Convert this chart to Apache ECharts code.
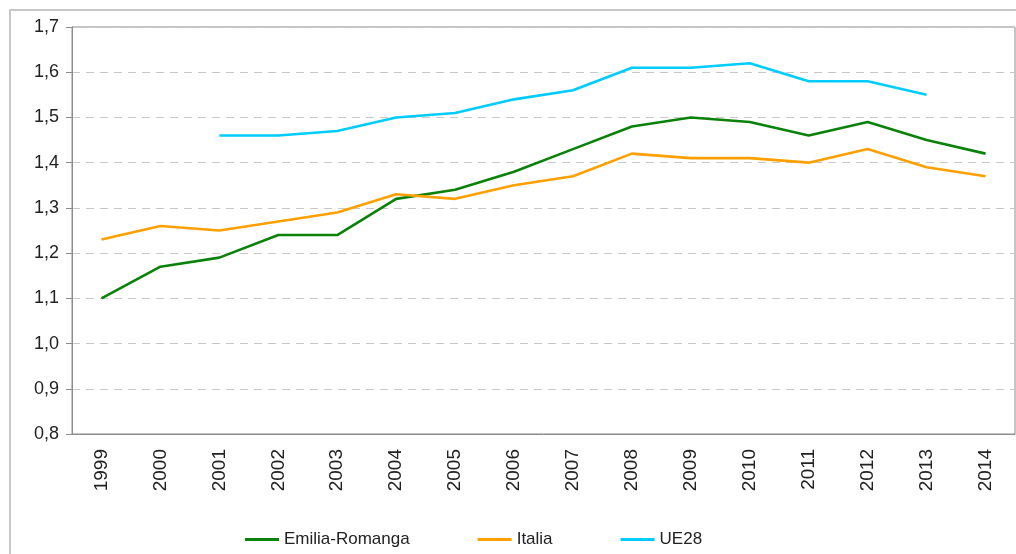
<!DOCTYPE html>
<html lang="it">
<head>
    <meta charset="utf-8">
    <title>Emilia-Romanga, Italia, UE28</title>
    <script src="https://cdn.jsdelivr.net/npm/echarts@6/dist/echarts.min.js"></script>
    <style>
        html, body { margin: 0; padding: 0; background: #fff; }
        #chart { width: 1016px; height: 554px; }
    </style>
</head>
<body>
    <div id="chart"></div>
    <script>
    // dati
    var anni = ['1999','2000','2001','2002','2003','2004','2005','2006','2007','2008','2009','2010','2011','2012','2013','2014'];
    var emiliaRomanga = [1.10, 1.17, 1.19, 1.24, 1.24, 1.32, 1.34, 1.38, 1.43, 1.48, 1.50, 1.49, 1.46, 1.49, 1.45, 1.42];
    var italia = [1.23, 1.26, 1.25, 1.27, 1.29, 1.33, 1.32, 1.35, 1.37, 1.42, 1.41, 1.41, 1.40, 1.43, 1.39, 1.37];
    var ue28 = [null, null, 1.46, 1.46, 1.47, 1.50, 1.51, 1.54, 1.56, 1.61, 1.61, 1.62, 1.58, 1.58, 1.55, null];
    var nomi = ['Emilia-Romanga', 'Italia', 'UE28'];
    var colori = ['#0a820a', '#ffa000', '#00ccff'];

    var font = 'Liberation Sans, Arial, sans-serif';
    var chart = echarts.init(document.getElementById('chart'));

    function serie(i, dati) {
        return {
            name: nomi[i],
            type: 'line',
            data: dati,
            symbol: 'none',
            connectNulls: false,
            lineStyle: { color: colori[i], width: 2.6 },
            itemStyle: { color: colori[i] },
            animation: false
        };
    }

    chart.setOption({
        animation: false,
        // cornice esterna
        graphic: [{
            type: 'rect',
            shape: { x: 10, y: 10, width: 1030, height: 580 },
            style: { fill: 'none', stroke: '#c8c8c8', lineWidth: 2 },
            silent: true
        }],
        grid: {
            left: 72, right: 1, top: 27, bottom: 120,
            show: true, borderColor: '#8c8c8c', borderWidth: 1
        },
        legend: {
            data: nomi,
            left: 240, top: 526,
            itemWidth: 34, itemHeight: 3, itemGap: 68,
            icon: 'rect',
            textStyle: { fontFamily: font, fontSize: 17, color: '#222' }
        },
        xAxis: {
            type: 'category',
            data: anni,
            boundaryGap: true,
            axisLine: { lineStyle: { color: '#8c8c8c' } },
            axisTick: { length: 6, lineStyle: { color: '#8c8c8c' } },
            axisLabel: { rotate: 90, margin: 15, fontFamily: font, fontSize: 19, color: '#222' }
        },
        yAxis: {
            type: 'value',
            min: 0.8, max: 1.7, interval: 0.1,
            axisLine: { show: true, lineStyle: { color: '#8c8c8c' } },
            axisTick: { show: true, length: 6, lineStyle: { color: '#8c8c8c' } },
            splitLine: { lineStyle: { color: '#c8c8c8', type: [8, 6] } },
            axisLabel: {
                margin: 13, fontFamily: font, fontSize: 18, color: '#222',
                formatter: function (v) { return v.toFixed(1).replace('.', ','); }
            }
        },
        series: [serie(0, emiliaRomanga), serie(1, italia), serie(2, ue28)]
    });
    </script>
</body>
</html>
